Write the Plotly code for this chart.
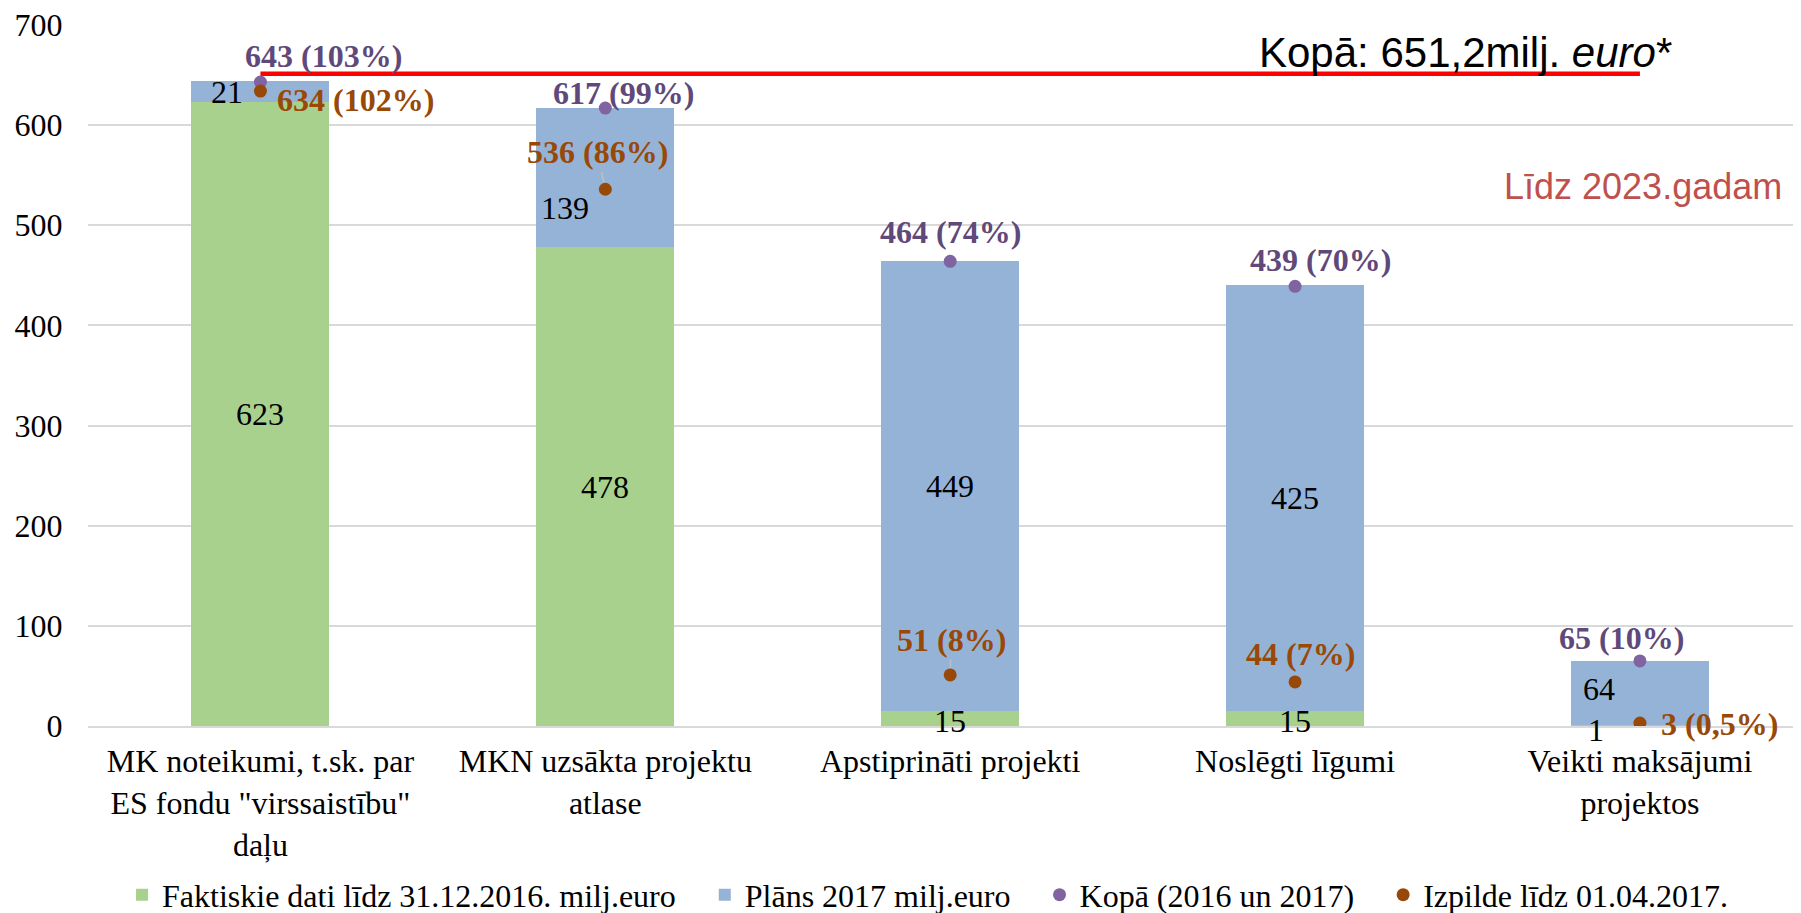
import plotly.graph_objects as go

# ---------------- data ----------------
categories = [
    'MK noteikumi, t.sk. par<br>ES fondu "virssaistību"<br>daļu',
    'MKN uzsākta projektu<br>atlase',
    'Apstiprināti projekti',
    'Noslēgti līgumi',
    'Veikti maksājumi<br>projektos',
]
actual_2016 = [623, 478, 15, 15, 1]
plan_2017 = [21, 139, 449, 425, 64]
total_2016_2017 = [643, 617, 464, 439, 65]
total_labels = ['643 (103%)', '617 (99%)', '464 (74%)', '439 (70%)', '65 (10%)']
execution = [634, 536, 51, 44, 3]
execution_labels = ['634 (102%)', '536 (86%)', '51 (8%)', '44 (7%)', '3 (0,5%)']
overall_total = 651.2
y_ticks = [0, 100, 200, 300, 400, 500, 600, 700]

# ---------------- styles ----------------
GREEN = '#A9D18E'
BLUE = '#95B3D7'
PURPLE_DOT = '#8064A2'
PURPLE_TXT = '#5F497A'
BROWN = '#984807'
SERIF = 'Liberation Serif, Times New Roman, serif'
SANS = 'Liberation Sans, Arial, sans-serif'
FS = 32
PAD = '\u00a0\u00a0\u00a0'

# pixel offsets for labels (style only)
green_shift = [(0, 0), (0, 0), (0, -3), (0, -3), (-44, -4)]
blue_shift = [(-33, 0), (-40, -30), (0, 0), (0, 0), (-41, 4)]
total_shift = [(63, 26), (18, 15), (0, 29), (25, 26), (-18, 23)]
exec_shift = [(95, -9), (-8, 37), (1, 35), (5, 28), (80, -1)]
exec_leader = [False, True, True, False, False]

fig = go.Figure()
fig.add_trace(go.Bar(x=categories, y=actual_2016, name='Faktiskie dati līdz 31.12.2016. milj.euro' + PAD,
                     marker=dict(color=GREEN, line=dict(width=0)), width=0.4))
fig.add_trace(go.Bar(x=categories, y=plan_2017, name='Plāns 2017 milj.euro' + PAD,
                     marker=dict(color=BLUE, line=dict(width=0)), width=0.4))
fig.add_trace(go.Scatter(x=[categories[0], categories[-1]], y=[overall_total, overall_total],
                         mode='lines', line=dict(color='#FF0000', width=4.5), showlegend=False,
                         hoverinfo='skip'))
fig.add_trace(go.Scatter(x=categories, y=total_2016_2017, name='Kopā (2016 un 2017)' + PAD, mode='markers',
                         marker=dict(color=PURPLE_DOT, size=13)))
fig.add_trace(go.Scatter(x=categories, y=execution, name='Izpilde līdz 01.04.2017.', mode='markers',
                         marker=dict(color=BROWN, size=13)))

ann = []
for i, c in enumerate(categories):
    a = actual_2016[i]
    p = plan_2017[i]
    ann.append(dict(x=c, y=a / 2, text=str(a), showarrow=False, xshift=green_shift[i][0],
                    yshift=green_shift[i][1], font=dict(family=SERIF, size=FS, color='black')))
    ann.append(dict(x=c, y=a + p / 2, text=str(p), showarrow=False, xshift=blue_shift[i][0],
                    yshift=blue_shift[i][1], font=dict(family=SERIF, size=FS, color='black')))
    ann.append(dict(x=c, y=total_2016_2017[i], text='<b>%s</b>' % total_labels[i], showarrow=False,
                    xshift=total_shift[i][0], yshift=total_shift[i][1],
                    font=dict(family=SERIF, size=FS, color=PURPLE_TXT)))
    if exec_leader[i]:
        ann.append(dict(x=c, y=execution[i], text='<b>%s</b>' % execution_labels[i], showarrow=True,
                        ax=exec_shift[i][0], ay=-exec_shift[i][1], axref='pixel', ayref='pixel',
                        arrowhead=0, arrowwidth=1.5, arrowcolor='#BFBFBF', standoff=7,
                        font=dict(family=SERIF, size=FS, color=BROWN)))
    else:
        ann.append(dict(x=c, y=execution[i], text='<b>%s</b>' % execution_labels[i], showarrow=False,
                        xshift=exec_shift[i][0], yshift=exec_shift[i][1],
                        font=dict(family=SERIF, size=FS, color=BROWN)))

ann.append(dict(xref='paper', yref='y', x=0.8044, y=673, xanchor='center', yanchor='middle',
                text='Kopā: 651,2milj. <i>euro</i>*',
                showarrow=False, font=dict(family=SANS, size=42, color='black')))
ann.append(dict(xref='paper', yref='y', x=0.9075, y=539, xanchor='center', yanchor='middle',
                text='Līdz 2023.gadam',
                showarrow=False, font=dict(family=SANS, size=36, color='#C0504D')))

fig.update_layout(
    barmode='stack',
    width=1793, height=905,
    margin=dict(l=80, r=0, t=17, b=187, pad=0, autoexpand=False),
    plot_bgcolor='white', paper_bgcolor='white',
    font=dict(family=SERIF, size=FS, color='black'),
    annotations=ann,
    showlegend=True,
    legend=dict(orientation='h', xref='container', yref='container', x=0.0636, y=0.02,
                xanchor='left', yanchor='middle', font=dict(family=SERIF, size=FS),
                bgcolor='rgba(0,0,0,0)', itemwidth=30, traceorder='normal'),
    bargap=0.6,
)
fig.update_xaxes(range=[-0.5, 4.467], showgrid=False, showline=True, linecolor='#D9D9D9', linewidth=2,
                 ticks='outside', ticklen=6, tickcolor='rgba(0,0,0,0)', automargin=False,
                 ticklabeloverflow='allow',
                 tickfont=dict(family=SERIF, size=FS, color='black'))
fig.update_yaxes(range=[0, 700], tickvals=y_ticks, showgrid=True, gridcolor='#D9D9D9', gridwidth=2,
                 zeroline=False, ticks='outside', ticklen=18, tickcolor='rgba(0,0,0,0)', automargin=False,
                 ticklabeloverflow='allow',
                 tickfont=dict(family=SERIF, size=FS, color='black'))

fig.write_html('out.html')
